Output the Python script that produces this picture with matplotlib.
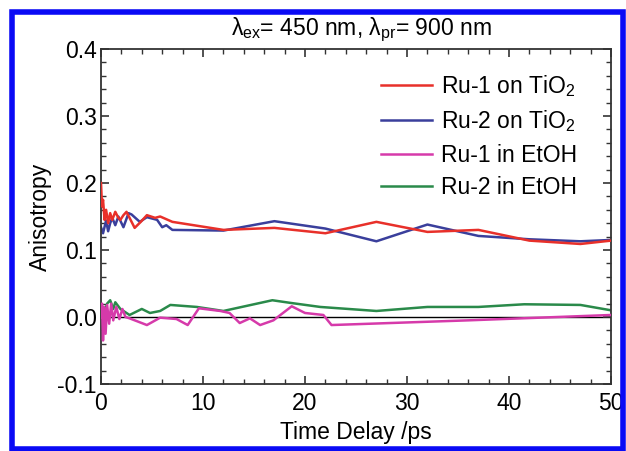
import matplotlib
matplotlib.use('Agg')
import matplotlib.pyplot as plt
from matplotlib.patches import Rectangle
from matplotlib.ticker import MultipleLocator

plt.rcParams['font.family'] = ['Liberation Sans', 'DejaVu Sans']
plt.rcParams['mathtext.fontset'] = 'custom'
plt.rcParams['mathtext.rm'] = 'Liberation Sans'
plt.rcParams['mathtext.it'] = 'Liberation Sans'

# Ru-1 on TiO2
t_r1 = [0, 0.1, 0.2, 0.35, 0.5, 0.7, 0.9, 1.1, 1.4, 1.7, 1.9, 2.2, 2.5, 2.9, 3.3,
        3.9, 4.5, 5.3, 5.8, 7.0, 12.0, 17.0, 22.0, 27.0, 32.0, 37.0, 42.0, 47.0, 50.0]
v_r1 = [0.20, 0.165, 0.175, 0.145, 0.16, 0.14, 0.155, 0.145, 0.157, 0.148, 0.145,
        0.152, 0.157, 0.145, 0.133, 0.142, 0.152, 0.148, 0.150, 0.142, 0.130, 0.133,
        0.125, 0.142, 0.127, 0.130, 0.114, 0.109, 0.114]

# Ru-2 on TiO2
t_r2 = [0, 0.2, 0.5, 0.7, 0.9, 1.1, 1.4, 1.7, 2.2, 2.7, 3.0, 3.8, 4.5, 5.5, 6.0,
        6.4, 7.0, 12.0, 17.0, 22.0, 27.0, 32.0, 37.0, 42.0, 47.0, 50.0]
v_r2 = [0.134, 0.125, 0.144, 0.128, 0.140, 0.148, 0.137, 0.150, 0.134, 0.155,
        0.153, 0.142, 0.149, 0.145, 0.134, 0.137, 0.130, 0.129, 0.143, 0.132,
        0.113, 0.138, 0.121, 0.116, 0.113, 0.115]

# Ru-1 in EtOH
t_e1 = [0, 0.1, 0.2, 0.3, 0.45, 0.6, 0.8, 1.0, 1.2, 1.5, 1.8, 2.1, 2.4, 2.8, 4.5,
        5.8, 7.4, 8.5, 9.6, 11.7, 12.6, 13.6, 14.6, 15.6, 16.9, 18.7, 20.0, 21.8,
        22.6, 36.0, 50.0]
v_e1 = [0.0, 0.02, -0.035, 0.015, -0.025, 0.018, -0.01, 0.02, -0.005, 0.015,
        -0.003, 0.012, 0.0, -0.002, -0.012, -0.001, -0.003, -0.012, 0.013, 0.009,
        0.006, -0.009, -0.002, -0.012, -0.005, 0.016, 0.006, 0.003, -0.012,
        -0.005, 0.003]

# Ru-2 in EtOH
t_e2 = [0, 0.3, 0.6, 0.9, 1.2, 1.4, 1.9, 2.8, 4.0, 4.8, 5.8, 6.8, 9.4, 12.0, 16.8,
        18.6, 21.5, 27.0, 32.0, 37.0, 41.5, 47.0, 50.0]
v_e2 = [0.013, 0.005, 0.02, 0.025, 0.012, 0.022, 0.012, 0.003, 0.012, 0.006,
        0.009, 0.018, 0.015, 0.009, 0.025, 0.021, 0.015, 0.009, 0.015, 0.015,
        0.019, 0.018, 0.010]

fig = plt.figure(figsize=(6.26, 4.51), dpi=100)
ax = fig.add_axes([101/626, 1 - 384/451, 510/626, 335/451])

ax.axhline(0, color='black', lw=1.0, zorder=1)
ax.plot(t_r1, v_r1, color='#e8302a', lw=1.8, label='Ru-1 on TiO$_2$', zorder=3)
ax.plot(t_r2, v_r2, color='#3a3f9c', lw=1.8, label='Ru-2 on TiO$_2$', zorder=2)
ax.plot(t_e1, v_e1, color='#d63aaa', lw=1.8, label='Ru-1 in EtOH', zorder=3)
ax.plot(t_e2, v_e2, color='#2a8a4a', lw=1.8, label='Ru-2 in EtOH', zorder=2)

ax.set_xlim(0, 50)
ax.set_ylim(-0.1, 0.4)
ax.xaxis.set_major_locator(MultipleLocator(10))
ax.xaxis.set_minor_locator(MultipleLocator(2))
ax.yaxis.set_minor_locator(MultipleLocator(0.02))
ax.set_yticks([-0.1, 0.0, 0.1, 0.2, 0.3, 0.4])
ax.set_yticklabels(['-0.1', '0.0', '0.1', '0.2', '0.3', '0.4'])
ax.tick_params(which='both', direction='in', top=True, right=True,
               labelsize=16.5, color='#333333')
ax.tick_params(which='major', length=6, width=1.2)
ax.tick_params(which='minor', length=3.5, width=1.0)
ax.tick_params(axis='x', which='major', pad=6)
ax.tick_params(axis='y', which='major', pad=3)
for s in ax.spines.values():
    s.set_linewidth(1.3)
    s.set_color('#333333')

ax.set_xlabel('Time Delay /ps', fontsize=16.5, labelpad=4)
ax.set_ylabel('Anisotropy', fontsize=16.5, labelpad=4)
ax.set_title(r'$\lambda_{\rm ex}$= 450 nm, $\lambda_{\rm pr}$= 900 nm',
             fontsize=16.5, x=0.51, pad=10)

ax.legend(loc='upper right', bbox_to_anchor=(0.98, 1.0), frameon=False,
          fontsize=16.5, handlelength=2.2, labelspacing=0.42,
          borderaxespad=0.63, handletextpad=0.4)

fig.patches.append(Rectangle((11.5/626, 2.5/451), 611/626, 437/451, transform=fig.transFigure,
                             fill=False, edgecolor='#0a0af5', lw=4))

fig.savefig('out.png', dpi=100)
